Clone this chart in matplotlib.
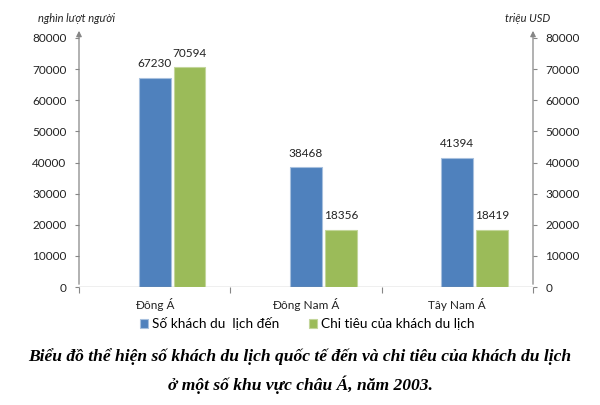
import matplotlib.pyplot as plt
import numpy as np

regions = ['Đông Á', 'Đông Nam Á', 'Tây Nam Á']
visitors = [67230, 38468, 41394]
spending = [70594, 18356, 18419]
yticks = [0, 10000, 20000, 30000, 40000, 50000, 60000, 70000, 80000]

blue = '#4F81BD'
green = '#9BBB59'
axis_gray = '#868686'

plt.rcParams['font.family'] = ['Lato', 'DejaVu Sans']

fig = plt.figure(figsize=(6, 4.05), dpi=100)
ax = fig.add_axes([79 / 600, 1 - 287 / 405, 454 / 600, 249 / 405])
ax2 = ax.twinx()

x = np.arange(len(regions))
w = 0.21
b1 = ax.bar(x, visitors, w, color=blue, edgecolor='#a7c0de', linewidth=0.8,
            label='Số khách du  lịch đến', zorder=3)
b2 = ax2.bar(x + w + 0.02, spending, w, color=green, edgecolor='#c3d69b', linewidth=0.8,
             label='Chi tiêu của khách du lịch', zorder=3)

for a, bars, vals in [(ax, b1, visitors), (ax2, b2, spending)]:
    for b, v in zip(bars, vals):
        a.text(b.get_x() + b.get_width() / 2, v + 2800, str(v), ha='center',
               va='bottom', fontsize=8.5, color='#222222')

for a in (ax, ax2):
    a.set_ylim(0, 80000)
    a.set_yticks(yticks)
    a.set_xlim(-0.5, 2.5)
    for s in a.spines.values():
        s.set_visible(False)
    a.tick_params(axis='y', colors=axis_gray, labelcolor='#222222', labelsize=8.5,
                  length=3, width=0.8)

ax.tick_params(axis='y', direction='out', pad=6)
ax2.tick_params(axis='y', direction='out', pad=6)

# axis lines with arrows
ax.annotate('', xy=(0, 1.04), xycoords='axes fraction', xytext=(0, 0),
            arrowprops=dict(arrowstyle='-|>', color=axis_gray, lw=0.9, mutation_scale=8))
ax.annotate('', xy=(1, 1.04), xycoords='axes fraction', xytext=(1, 0),
            arrowprops=dict(arrowstyle='-|>', color=axis_gray, lw=0.9, mutation_scale=8))
ax.axhline(0, color=axis_gray, lw=0.9, zorder=4)

ax.set_xticks([-0.5, 0.5, 1.5, 2.5])
ax.set_xticklabels([])
ax.set_xticks(x, minor=True)
ax.set_xticklabels(regions, minor=True, fontsize=8.5, color='#222222')
ax.tick_params(axis='x', which='major', colors=axis_gray, length=4, width=0.8)
ax.tick_params(axis='x', which='minor', length=0, pad=8)

fig.text(38 / 600, 1 - 18 / 405, 'nghìn lượt người', fontsize=8, style='italic',
         color='#222222', va='center')
fig.text(505 / 600, 1 - 18 / 405, 'triệu USD', fontsize=8, style='italic',
         color='#222222', va='center')

fig.legend([b1, b2], [b1.get_label(), b2.get_label()], loc='center',
           bbox_to_anchor=(0.512, 1 - 324 / 405), ncol=2, frameon=False,
           fontsize=9.8, handlelength=0.6, handleheight=0.6, handletextpad=0.3,
           columnspacing=2.2)

fig.text(0.5, 1 - 357 / 405,
         'Biểu đồ thể hiện số khách du lịch quốc tế đến và chi tiêu của khách du lịch',
         ha='center', va='center', fontsize=12.6, fontweight='bold', style='italic',
         family=['Liberation Serif', 'DejaVu Serif'])
fig.text(0.5, 1 - 385 / 405, 'ở một số khu vực châu Á, năm 2003.',
         ha='center', va='center', fontsize=12.6, fontweight='bold', style='italic',
         family=['Liberation Serif', 'DejaVu Serif'])

fig.savefig('out.png', dpi=100)
